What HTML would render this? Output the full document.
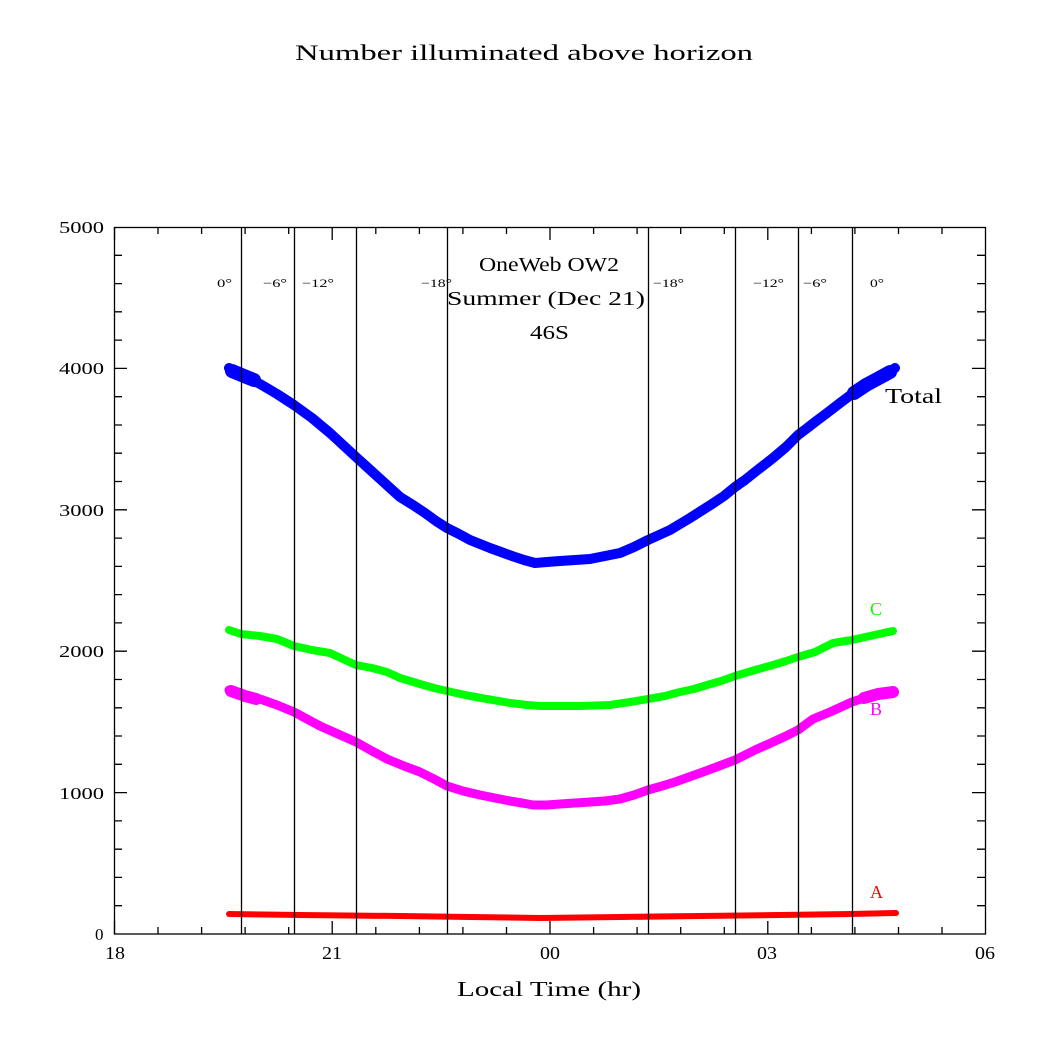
<!DOCTYPE html>
<html><head><meta charset="utf-8"><style>
html,body{margin:0;padding:0;background:#fff;}
svg{display:block;}
text{font-family:"Liberation Serif",serif;}
</style></head><body>
<svg width="1046" height="1046" viewBox="0 0 1046 1046" xmlns="http://www.w3.org/2000/svg">
<rect width="1046" height="1046" fill="#fff"/>
<text x="295" y="60" font-size="22" textLength="458" lengthAdjust="spacingAndGlyphs">Number illuminated above horizon</text>

<!-- curves -->
<g fill="none" stroke-linecap="round" stroke-linejoin="round">
<polyline stroke="#ff0000" stroke-width="6" points="229,914 300,915 400,916 470,917 540,918 620,917 700,916 780,915 850,914 896,913"/>
<polyline stroke="#ff00ff" stroke-width="9" points="229,690 241,694 260,699 277,705 294,712 307,719 320,726 338,734 356,742 372,751 387,759 404,766 420,772 434,779 447,786 463,791 480,795 495,798 510,801 522,803 533,805 547,805 560,804 575,803 590,802 605,801 620,799 634,795 648,790 662,786 675,782 689,777 703,772 719,766 735,760 755,750 773,742 786,736 798,730 813,719 830,712 841,707 852,702 870,696 893,692"/>
<polyline stroke="#ff00ff" stroke-width="12" points="231,691 245,696 256,699"/>
<polyline stroke="#ff00ff" stroke-width="12" points="864,698 878,694 893,692"/>
<polyline stroke="#00ff00" stroke-width="8" points="229,630 241,634 260,636 277,639 294,646 312,650 330,653 345,660 356,665 372,668 387,672 400,678 420,684 434,688 447,691 470,696 487,699 510,703 527,705 541,706 555,706 580,706 610,705 630,702 648,699 665,696 680,692 694,689 707,685 721,681 735,676 755,670 773,665 786,661 798,657 815,652 833,643 852,640 870,636 893,631"/>
<polyline stroke="#0000ff" stroke-width="10" points="229,368 241,374 260,384 277,394 294,405 312,418 330,433 343,445 356,457 367,467 378,477 389,487 400,497 413,505 425,513 436,521 447,528 459,534 470,540 480,544 490,548 501,552 512,556 524,560 535,563 547,562 560,561 575,560 590,559 605,556 620,553 634,547 648,540 659,535 670,530 680,524 690,518 701,511 712,504 724,496 735,487 745,480 755,472 764,465 773,458 786,447 798,435 806,429 815,422 827,413 840,403 852,394 863,387 873,381 887,374 895,368"/>
<polyline stroke="#0000ff" stroke-width="14" points="232,371 244,376 254,380"/>
<polyline stroke="#0000ff" stroke-width="14" points="854,393 866,385 879,378 890,372"/>
</g>

<!-- vertical twilight lines -->
<g stroke="#000" stroke-width="1.3">
<line x1="241.5" y1="227" x2="241.5" y2="934"/>
<line x1="294.5" y1="227" x2="294.5" y2="934"/>
<line x1="356.5" y1="227" x2="356.5" y2="934"/>
<line x1="447.5" y1="227" x2="447.5" y2="934"/>
<line x1="648.5" y1="227" x2="648.5" y2="934"/>
<line x1="735.5" y1="227" x2="735.5" y2="934"/>
<line x1="798.5" y1="227" x2="798.5" y2="934"/>
<line x1="852.5" y1="227" x2="852.5" y2="934"/>
</g>

<!-- frame -->
<rect x="114.5" y="227.5" width="871" height="706.5" fill="none" stroke="#000" stroke-width="1.3"/>

<!-- ticks -->
<g stroke="#000" stroke-width="1.3">
<path d="
M114.5,934v-13 M158,934v-7 M201.6,934v-7 M245.1,934v-7 M288.7,934v-7 M332.2,934v-13 M375.8,934v-7 M419.4,934v-7 M462.9,934v-7 M506.5,934v-7 M550,934v-13 M593.6,934v-7 M637.1,934v-7 M680.7,934v-7 M724.3,934v-7 M767.8,934v-13 M811.4,934v-7 M854.9,934v-7 M898.5,934v-7 M942,934v-7
M114.5,227v13 M158,227v7 M201.6,227v7 M245.1,227v7 M288.7,227v7 M332.2,227v13 M375.8,227v7 M419.4,227v7 M462.9,227v7 M506.5,227v7 M550,227v13 M593.6,227v7 M637.1,227v7 M680.7,227v7 M724.3,227v7 M767.8,227v13 M811.4,227v7 M854.9,227v7 M898.5,227v7 M942,227v7
M114,905.7h8 M114,877.4h8 M114,849.2h8 M114,820.9h8 M114,792.6h13 M114,764.3h8 M114,736h8 M114,707.8h8 M114,679.5h8 M114,651.2h13 M114,622.9h8 M114,594.6h8 M114,566.4h8 M114,538.1h8 M114,509.8h13 M114,481.5h8 M114,453.2h8 M114,425h8 M114,396.7h8 M114,368.4h13 M114,340.1h8 M114,311.8h8 M114,283.6h8 M114,255.3h8
M985,905.7h-8 M985,877.4h-8 M985,849.2h-8 M985,820.9h-8 M985,792.6h-13 M985,764.3h-8 M985,736h-8 M985,707.8h-8 M985,679.5h-8 M985,651.2h-13 M985,622.9h-8 M985,594.6h-8 M985,566.4h-8 M985,538.1h-8 M985,509.8h-13 M985,481.5h-8 M985,453.2h-8 M985,425h-8 M985,396.7h-8 M985,368.4h-13 M985,340.1h-8 M985,311.8h-8 M985,283.6h-8 M985,255.3h-8
"/>
</g>

<!-- y tick labels -->
<g font-size="17">
<text x="59" y="233" textLength="45" lengthAdjust="spacingAndGlyphs">5000</text>
<text x="59" y="374" textLength="45" lengthAdjust="spacingAndGlyphs">4000</text>
<text x="59" y="516" textLength="45" lengthAdjust="spacingAndGlyphs">3000</text>
<text x="59" y="657" textLength="45" lengthAdjust="spacingAndGlyphs">2000</text>
<text x="59" y="799" textLength="45" lengthAdjust="spacingAndGlyphs">1000</text>
<text x="95" y="940">0</text>
</g>
<!-- x tick labels -->
<g font-size="18">
<text x="105" y="959" textLength="20" lengthAdjust="spacingAndGlyphs">18</text>
<text x="322" y="959" textLength="20" lengthAdjust="spacingAndGlyphs">21</text>
<text x="540" y="959" textLength="20" lengthAdjust="spacingAndGlyphs">00</text>
<text x="757" y="959" textLength="20" lengthAdjust="spacingAndGlyphs">03</text>
<text x="975" y="959" textLength="20" lengthAdjust="spacingAndGlyphs">06</text>
</g>
<text x="457" y="996" font-size="21" textLength="184" lengthAdjust="spacingAndGlyphs">Local Time (hr)</text>

<!-- degree labels -->
<g font-size="12">
<text x="217" y="287" textLength="15" lengthAdjust="spacingAndGlyphs">0°</text>
<text x="263" y="287" textLength="24" lengthAdjust="spacingAndGlyphs">−6°</text>
<text x="302" y="287" textLength="32" lengthAdjust="spacingAndGlyphs">−12°</text>
<text x="421" y="287" textLength="31" lengthAdjust="spacingAndGlyphs">−18°</text>
<text x="653" y="287" textLength="31" lengthAdjust="spacingAndGlyphs">−18°</text>
<text x="753" y="287" textLength="31" lengthAdjust="spacingAndGlyphs">−12°</text>
<text x="803" y="287" textLength="24" lengthAdjust="spacingAndGlyphs">−6°</text>
<text x="870" y="287" textLength="14" lengthAdjust="spacingAndGlyphs">0°</text>
</g>

<!-- center labels -->
<text x="479" y="271" font-size="20" textLength="140" lengthAdjust="spacingAndGlyphs">OneWeb OW2</text>
<text x="447" y="305" font-size="20" textLength="198" lengthAdjust="spacingAndGlyphs">Summer (Dec 21)</text>
<text x="530" y="339" font-size="20" textLength="39" lengthAdjust="spacingAndGlyphs">46S</text>

<!-- series labels -->
<text x="885" y="403" font-size="21" textLength="57" lengthAdjust="spacingAndGlyphs">Total</text>
<text x="870" y="615" font-size="18" fill="#00ff00">C</text>
<text x="870" y="715" font-size="18" fill="#ff00ff">B</text>
<text x="870" y="898" font-size="18" fill="#ff0000">A</text>
</svg>
</body></html>
